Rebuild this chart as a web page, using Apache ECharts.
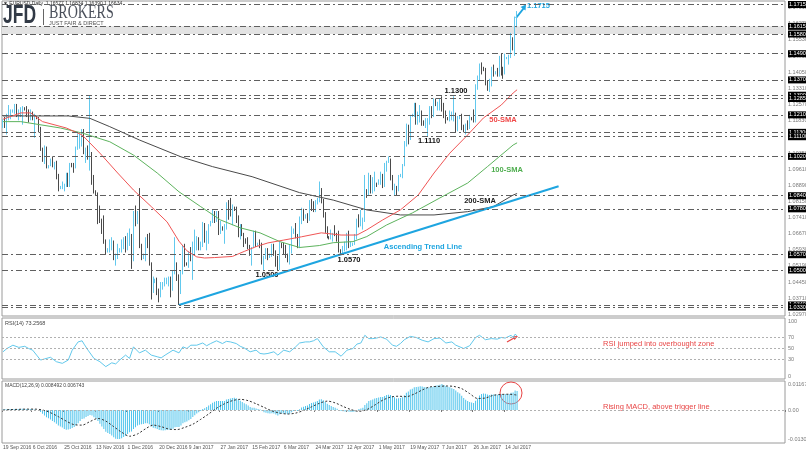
<!DOCTYPE html>
<html><head><meta charset="utf-8">
<script src="https://cdn.jsdelivr.net/npm/echarts@6/dist/echarts.min.js"></script>
<style>html,body{margin:0;padding:0;background:#fff}#c{width:806px;height:453px}</style>
</head><body><div id="c"></div>
<script>
// ---------- DATA ----------
const xLabels = ['19 Sep 2016','6 Oct 2016','25 Oct 2016','13 Nov 2016','1 Dec 2016','20 Dec 2016','9 Jan 2017','27 Jan 2017','15 Feb 2017','6 Mar 2017','24 Mar 2017','12 Apr 2017','1 May 2017','19 May 2017','7 Jun 2017','26 Jun 2017','14 Jul 2017'];
const firstDay = '2016-09-19';
const noBarDays = ['25 Dec 2016','1 Jan 2017'];
// daily bars (Sunday bars included), price x 10000: open, high, low, close
const ohlc = [
[11155,11190,11150,11170],[11170,11200,11150,11155],[11155,11215,11120,11190],[11190,11255,11185,11210],[11210,11235,11190,11225],
[11225,11235,11220,11230],[11230,11260,11215,11255],[11255,11260,11200,11210],[11210,11235,11185,11215],[11215,11245,11200,11220],[11220,11250,11165,11240],
[11240,11245,11230,11235],[11235,11250,11200,11210],[11210,11235,11175,11205],[11205,11235,11185,11205],[11205,11225,11185,11200],[11200,11215,11105,11200],
[11200,11205,11190,11195],[11195,11200,11130,11140],[11140,11155,11045,11055],[11055,11060,10995,11005],[11005,11070,10985,11055],[11055,11065,10965,10970],
[10970,10980,10965,10975],[10975,11010,10975,11000],[11000,11020,10970,10975],[10975,10995,10960,10975],[10975,11000,10915,10930],[10930,10940,10860,10880],
[10880,10885,10870,10880],[10880,10905,10870,10880],[10880,10895,10860,10885],[10885,10945,10880,10925],[10925,10945,10880,10895],[10895,10990,10880,10985],
[10985,10990,10970,10980],[10980,10990,10945,10975],[10975,11065,10965,11055],[11055,11125,11050,11100],[11100,11125,11055,11100],[11100,11145,11065,11140],
[11140,11145,11030,11040],[11040,11060,10990,11040],[11040,11070,11005,11020],[11020,11300,10955,11030],[11030,11040,10890,10895],[10895,10935,10850,10855],
[10855,10865,10840,10850],[10850,10855,10710,10735],[10735,10795,10715,10720],[10720,10735,10665,10690],[10690,10750,10620,10630],[10630,10640,10570,10590],
[10590,10600,10580,10595],[10595,10640,10580,10625],[10625,10650,10590,10630],[10630,10635,10545,10550],[10550,10575,10520,10555],[10555,10620,10550,10590],
[10590,10600,10580,10595],[10595,10640,10580,10610],[10610,10650,10595,10645],[10645,10655,10580,10590],[10590,10670,10590,10665],[10665,10690,10610,10665],
[10665,10665,10505,10540],[10540,10770,10540,10760],[10760,10795,10700,10720],[10720,10770,10710,10755],[10755,10875,10600,10615],[10615,10620,10545,10560],
[10560,10575,10550,10565],[10565,10650,10540,10630],[10630,10665,10600,10620],[10620,10670,10520,10525],[10525,10535,10365,10410],[10410,10470,10395,10450],
[10450,10460,10440,10455],[10455,10465,10385,10400],[10400,10415,10352,10385],[10385,10445,10375,10425],[10425,10445,10410,10435],[10435,10465,10425,10455],
[10455,10465,10435,10455],[10455,10470,10425,10455],[10455,10470,10375,10410],[10410,10500,10405,10495],[10495,10650,10480,10520],
[10520,10535,10450,10460],[10460,10480,10340,10405],[10405,10500,10390,10490],[10490,10615,10480,10605],[10605,10620,10515,10530],
[10530,10535,10520,10525],[10525,10585,10510,10575],[10575,10605,10540,10555],[10555,10630,10455,10585],[10585,10685,10565,10615],[10615,10655,10590,10645],
[10645,10650,10590,10600],[10600,10630,10590,10605],[10605,10720,10605,10710],[10710,10715,10625,10630],[10630,10680,10590,10660],[10660,10710,10620,10705],
[10705,10725,10700,10720],[10720,10775,10715,10760],[10760,10770,10715,10730],[10730,10770,10720,10750],[10750,10770,10660,10675],[10675,10725,10665,10695],
[10695,10700,10680,10690],[10690,10710,10620,10695],[10695,10810,10685,10800],[10800,10820,10730,10765],[10765,10830,10745,10760],[10760,10800,10705,10785],
[10785,10790,10770,10780],[10780,10790,10715,10745],[10745,10750,10650,10680],[10680,10710,10640,10700],[10700,10710,10655,10660],[10660,10670,10605,10640],
[10640,10645,10620,10625],[10625,10650,10595,10600],[10600,10615,10565,10575],[10575,10605,10520,10605],[10605,10680,10600,10675],[10675,10680,10605,10615],
[10615,10625,10610,10620],[10620,10640,10600,10615],[10615,10625,10525,10540],[10540,10565,10495,10555],[10555,10600,10550,10585],[10585,10600,10545,10560],
[10560,10575,10555,10570],[10570,10620,10560,10605],[10605,10620,10565,10575],[10575,10590,10515,10545],[10545,10565,10495,10505],[10505,10630,10500,10620],
[10620,10625,10600,10610],[10610,10625,10570,10585],[10585,10615,10555,10565],[10565,10575,10535,10545],[10545,10615,10525,10580],[10580,10700,10575,10670],
[10670,10690,10665,10685],[10685,10715,10645,10655],[10655,10665,10600,10605],[10605,10745,10600,10735],[10735,10785,10710,10765],[10765,10780,10725,10740],
[10740,10755,10735,10750],[10750,10760,10715,10740],[10740,10820,10725,10810],[10810,10825,10770,10795],[10795,10815,10765,10785],[10785,10820,10765,10800],
[10800,10830,10800,10825],[10825,10905,10810,10865],[10865,10875,10805,10815],[10815,10825,10740,10740],[10740,10765,10670,10675],[10675,10700,10645,10650],
[10650,10655,10640,10645],[10645,10685,10640,10665],[10665,10670,10630,10670],[10670,10705,10655,10660],[10660,10670,10630,10645],[10645,10680,10580,10590],
[10590,10595,10570,10580],[10580,10610,10570,10600],[10600,10630,10585,10615],[10615,10670,10590,10645],[10645,10680,10600,10615],[10615,10630,10605,10615],
[10615,10625,10610,10620],[10620,10665,10615,10645],[10645,10735,10640,10730],[10730,10755,10695,10715],[10715,10775,10700,10715],[10715,10740,10685,10725],
[10725,10935,10720,10860],[10860,10870,10830,10855],[10855,10945,10840,10930],[10930,10935,10850,10875],[10875,10925,10850,10875],[10875,10950,10860,10895],
[10895,10900,10880,10890],[10890,10915,10890,10905],[10905,10950,10890,10930],[10930,10940,10875,10885],[10885,10990,10880,10985],[10985,11000,10950,10995],
[10995,11020,10990,11000],[11000,11010,10910,10925],[10925,10935,10865,10875],[10875,10895,10840,10875],[10875,10885,10840,10865],[10865,10935,10860,10930],
[10930,10940,10925,10935],[10935,10985,10920,10980],[10980,11090,10975,11085],[11085,11170,11065,11160],[11160,11165,11075,11100],[11100,11210,11095,11205],
[11205,11215,11200,11210],[11210,11265,11200,11245],[11245,11265,11165,11180],[11180,11225,11165,11185],[11185,11255,11175,11210],[11210,11230,11160,11180],
[11180,11185,11160,11165],[11165,11195,11150,11165],[11165,11195,11110,11185],[11185,11250,11165,11245],[11245,11250,11195,11215],[11215,11285,11200,11280],
[11280,11285,11250,11255],[11255,11270,11230,11255],[11255,11285,11230,11280],[11280,11295,11225,11260],[11260,11265,11195,11210],[11210,11230,11170,11195],
[11195,11200,11185,11190],[11190,11230,11180,11210],[11210,11225,11185,11210],[11210,11295,11180,11215],[11215,11220,11130,11150],[11150,11205,11135,11195],
[11195,11205,11190,11200],[11200,11215,11140,11145],[11145,11165,11130,11130],[11130,11170,11120,11165],[11165,11185,11140,11150],[11150,11210,11145,11195],
[11195,11200,11185,11190],[11190,11235,11175,11180],[11180,11350,11175,11335],[11335,11390,11325,11375],[11375,11445,11365,11440],[11440,11450,11395,11425],
[11425,11430,11410,11415],[11415,11425,11345,11360],[11360,11365,11320,11350],[11350,11375,11315,11350],[11350,11430,11340,11420],[11420,11440,11385,11400],
[11400,11410,11395,11405],[11405,11425,11385,11400],[11400,11480,11385,11465],[11465,11490,11390,11410],[11410,11430,11375,11400],[11400,11490,11395,11470],
[11470,11475,11465,11470],[11470,11485,11440,11475],[11475,11585,11470,11555],[11555,11565,11505,11515],[11515,11660,11480,11630],[11630,11685,11610,11660]
];
// moving averages: [bar index, price]
const sma50 = [[0,1.1190],[9,1.1219],[14,1.1219],[20,1.1179],[32,1.1150],[40,1.1118],[49,1.1035],[58,1.0944],[66,1.0866],[75,1.0790],[83,1.0720],[89,1.0632],[93,1.0588],[98,1.0560],[102,1.0555],[107,1.0557],[116,1.0562],[122,1.0585],[128,1.0607],[134,1.0624],[142,1.0637],[151,1.0652],[161,1.0670],[171,1.0660],[179,1.0660],[184,1.0684],[192,1.0729],[201,1.0775],[210,1.0843],[218,1.0944],[226,1.1035],[235,1.1118],[243,1.1196],[252,1.1255],[258,1.1310],[260,1.1325]];
const sma100 = [[0,1.1179],[9,1.1179],[29,1.1150],[40,1.1127],[54,1.1087],[66,1.1026],[78,1.0944],[89,1.0858],[100,1.0790],[110,1.0729],[120,1.0693],[130,1.0670],[140,1.0630],[150,1.0603],[160,1.0612],[167,1.0625],[177,1.0630],[184,1.0653],[194,1.0706],[207,1.0761],[221,1.0830],[235,1.0898],[245,1.0973],[258,1.1072],[260,1.1082]];
const sma200 = [[0,1.1205],[33,1.1205],[44,1.1194],[54,1.1156],[69,1.1095],[90,1.1018],[106,1.0973],[126,1.0927],[150,1.0854],[167,1.0820],[184,1.0775],[201,1.0752],[218,1.0752],[235,1.0767],[248,1.0790],[258,1.0843],[260,1.0850]];
const trendLine = [[89,1.0340],[281,1.0883]];
const levels = [1.1715,1.1615,1.1580,1.1490,1.1370,1.1300,1.1285,1.1210,1.1130,1.1110,1.1020,1.0840,1.0780,1.0570,1.0500,1.0340,1.0330];
const supportBand = [1.1580,1.1615];
const priceTicks = ['1.02970','1.03710','1.04450','1.05190','1.05930','1.06670','1.07410','1.08150','1.08890','1.09610','1.10350','1.11090','1.11830','1.12570','1.13310','1.14050','1.14790','1.15530','1.16270','1.17010'];
// RSI(14): [bar index, value]
const rsi = [[0,44],[2,50],[5,56],[8,52],[11,54],[13,50],[15,47],[17,38],[19,29],[21,31],[24,34],[27,26],[30,23],[33,29],[35,47],[38,62],[40,64],[41,58],[43,47],[46,32],[49,26],[52,17],[55,24],[57,22],[59,29],[62,38],[64,32],[66,53],[69,42],[72,47],[75,38],[78,35],[80,33],[82,38],[86,47],[89,42],[91,53],[93,50],[95,56],[98,56],[101,60],[103,55],[105,59],[108,64],[111,59],[113,63],[115,62],[118,59],[120,54],[122,51],[125,44],[128,47],[130,41],[132,40],[134,41],[137,44],[139,38],[142,47],[145,44],[148,53],[150,60],[153,62],[155,62],[157,64],[159,68],[162,53],[165,44],[168,44],[171,36],[174,47],[177,50],[179,58],[181,60],[183,74],[185,68],[187,68],[189,69],[191,71],[194,67],[197,56],[199,54],[201,59],[203,66],[206,72],[209,70],[212,65],[215,62],[218,68],[221,69],[224,60],[227,62],[229,56],[230,58],[233,50],[236,55],[239,70],[241,74],[244,66],[247,68],[250,67],[252,70],[254,69],[257,74],[258,70],[259,76],[260,73]];
const rsiLevels = [70,50,30];
const rsiTicks = [100,70,50,30,0];
// MACD(12,26,9) main line (histogram) x 10000, one per bar
const macd = [
2,3,3,4,4,5,5,5,5,6, 6,5,5,4,4,3,2,0,-3,-9, -17,-25,-33,-37,-43,-49,-55,-62,-70,-74,
-79,-85,-89,-88,-85,-81,-76,-69,-60,-50, -40,-38,-32,-27,-22,-25,-33,-38,-50,-62, -74,-86,-98,-104,-108,-115,-123,-129,-131,-130,
-127,-121,-116,-108,-100,-97,-86,-78,-70,-66, -64,-63,-60,-60,-64,-74,-80,-82,-86,-90, -91,-92,-91,-90,-89,-88,-84,-78,-76,-76,
-70,-60,-55,-52,-46,-40,-32,-24,-16,-10, -5,4,8,14,20,26,33,37,41,40, 40,40,40,47,50,52,54,55,53,46,
42,36,30,26,20,13,10,10,7,5, 2,-5,-10,-12,-15,-16,-15,-16,-20,-25, -19,-16,-16,-17,-19,-17,-10,-5,-3,-5,
3,11,15,18,20,27,31,34,37,41, 47,48,44,36,28,22,18,14,10,6, 0,-4,-6,-7,-6,-8,-9,-9,-7,0,
4,7,10,22,30,40,44,47,52,54, 56,59,58,63,67,69,67,62,57,52, 53,54,57,66,78,83,92,96,102,104,
105,107,106,104,102,100,103,103,108,110, 111,114,117,113,108,105,102,98,94,88, 80,74,64,54,46,40,36,34,32,42,
52,65,72,74,73,70,68,70,70,70, 69,72,71,69,72,72,72,78,79,88,85
];
// MACD signal line x 10000: [bar index, value]
const macdSignal = [[0,0],[4,2],[8,3],[12,4],[16,4],[20,0],[24,-12],[28,-30],[32,-50],[36,-66],[40,-68],[44,-52],[48,-38],[52,-50],[56,-75],[60,-100],[64,-118],[68,-108],[72,-85],[76,-68],[80,-75],[84,-86],[88,-88],[92,-78],[96,-64],[100,-42],[104,-18],[108,8],[112,28],[116,42],[120,48],[124,42],[128,28],[132,12],[136,-4],[140,-14],[144,-18],[148,-14],[152,-2],[156,14],[160,30],[164,40],[168,32],[172,16],[176,2],[180,-6],[184,2],[188,22],[192,44],[196,58],[200,62],[204,60],[208,72],[212,90],[216,104],[220,106],[224,108],[228,106],[232,96],[236,74],[240,52],[244,54],[248,66],[252,70],[256,71],[260,67]];
const macdTicks = [['0.011677',0.011677],['0.00',0],['-0.013089',-0.013089]];

// ---------- BUILD ----------
const MON = ['Jan','Feb','Mar','Apr','May','Jun','Jul','Aug','Sep','Oct','Nov','Dec'];
const dates = [];
for (let d = new Date(firstDay + 'T00:00:00Z'); dates.length < ohlc.length; d.setUTCDate(d.getUTCDate() + 1)) {
  if (d.getUTCDay() === 6) continue;
  const s = d.getUTCDate() + ' ' + MON[d.getUTCMonth()] + ' ' + d.getUTCFullYear();
  if (noBarDays.includes(s)) continue;
  dates.push(s);
}
const SLOTS = 396;
const cats = dates.concat(new Array(SLOTS - dates.length).fill(''));
const labelSet = new Set(xLabels);
const showLab = (i, v) => labelSet.has(v);

const FONT = '"Liberation Sans", Arial, sans-serif';
const candleData = ohlc.map(r => [r[0] / 1e4, r[3] / 1e4, r[2] / 1e4, r[1] / 1e4]);
const HIDDEN = {color: 'rgba(0,0,0,0)', width: 0};

const chart = echarts.init(document.getElementById('c'), null, {renderer: 'canvas'});
const frame = {show: true, borderColor: '#9a9a9a', borderWidth: 1, backgroundColor: 'transparent'};
const catAxis = (gi, withLabels) => ({
  type: 'category', gridIndex: gi, data: cats, boundaryGap: true,
  axisLine: {show: false}, splitLine: {show: false},
  axisTick: withLabels ? {show: true, interval: showLab, length: 2, lineStyle: {color: '#777'}} : {show: false},
  axisLabel: withLabels ? {show: true, interval: showLab, align: 'left', fontSize: 5, color: '#555', margin: 2, fontFamily: FONT} : {show: false}
});
const dashDot = [6, 3, 2, 3];
const tickLabel = {show: true, position: 'end', distance: 3, formatter: '{b}', color: '#7a7a7a', fontSize: 5.5, fontFamily: FONT};

chart.setOption({
  animation: false,
  backgroundColor: '#ffffff',
  textStyle: {fontFamily: FONT},
  grid: [
    Object.assign({left: 2, top: 1, width: 783, height: 315}, frame),
    Object.assign({left: 2, top: 318, width: 783, height: 61}, frame),
    Object.assign({left: 2, top: 381, width: 783, height: 62}, frame)
  ],
  xAxis: [catAxis(0, false), catAxis(1, false), catAxis(2, true)],
  yAxis: [
    {type: 'value', gridIndex: 0, min: 1.02895, max: 1.17311, show: false, splitLine: {show: false}},
    {type: 'value', gridIndex: 1, min: -5.45, max: 105.45, show: false, splitLine: {show: false}},
    {type: 'value', gridIndex: 2, min: -0.01485, max: 0.01305, show: false, splitLine: {show: false}}
  ],
  series: [
    {
      type: 'candlestick', xAxisIndex: 0, yAxisIndex: 0, z: 2,
      data: candleData, barWidth: 1.2,
      itemStyle: {color: '#4cc3ec', color0: '#333333', borderColor: '#62c9ee', borderColor0: '#4a4a4a', borderWidth: 1},
      markArea: {silent: true, itemStyle: {color: '#e3e3e3'}, data: [[{yAxis: supportBand[0]}, {yAxis: supportBand[1]}]]},
      markLine: {
        silent: true, symbol: ['none', 'none'], precision: 5,
        lineStyle: HIDDEN,
        label: tickLabel,
        data: priceTicks.map(t => ({yAxis: parseFloat(t), name: t}))
      }
    },
    {type: 'line', xAxisIndex: 0, yAxisIndex: 0, z: 3, data: sma200, symbol: 'none', lineStyle: {color: '#4a4a4a', width: 1}},
    {type: 'line', xAxisIndex: 0, yAxisIndex: 0, z: 3, data: sma100, symbol: 'none', lineStyle: {color: '#5db35d', width: 1}},
    {type: 'line', xAxisIndex: 0, yAxisIndex: 0, z: 3, data: sma50, symbol: 'none', lineStyle: {color: '#f05555', width: 1}},
    {
      type: 'line', xAxisIndex: 0, yAxisIndex: 0, z: 4, data: trendLine, symbol: 'none',
      lineStyle: {color: '#1ea5e0', width: 2},
      markLine: {
        silent: true, symbol: ['none', 'none'], precision: 5,
        lineStyle: {color: '#606060', width: 1, type: dashDot},
        label: {show: true, position: 'end', distance: 3, formatter: p => Number(p.value).toFixed(5),
          color: '#ffffff', backgroundColor: '#000000', padding: [1, 1, 0, 1], fontSize: 5.5, fontFamily: FONT},
        data: levels.map(v => ({yAxis: v}))
      }
    },
    {
      type: 'line', xAxisIndex: 1, yAxisIndex: 1, data: rsi, symbol: 'none',
      lineStyle: {color: '#62c9ec', width: 1},
      markLine: {
        silent: true, symbol: ['none', 'none'], precision: 5,
        label: tickLabel,
        data: rsiTicks.map(v => ({yAxis: v, name: String(v),
          lineStyle: rsiLevels.includes(v) ? {color: '#b0b0b0', width: 1, type: [2, 2]} : HIDDEN}))
      }
    },
    {
      type: 'bar', xAxisIndex: 2, yAxisIndex: 2, data: macd.map(v => v / 1e4), barWidth: 1,
      itemStyle: {color: '#4fc4ec'},
      markLine: {
        silent: true, symbol: ['none', 'none'], precision: 6,
        label: tickLabel,
        data: macdTicks.map(t => ({yAxis: t[1], name: t[0],
          lineStyle: t[1] === 0 ? {color: '#b0b0b0', width: 1, type: [2, 2]} : HIDDEN}))
      }
    },
    {type: 'line', xAxisIndex: 2, yAxisIndex: 2, data: macdSignal.map(p => [p[0], p[1] / 1e4]), symbol: 'none', smooth: 0.3,
      lineStyle: {color: '#333333', width: 1, type: [2, 2]}}
  ],
  graphic: [
    {type: 'text', x: 3, y: 4, style: {text: '\u25BC EURUSD,Daily  1.16577 1.16834 1.16390 1.16634', fill: '#333', font: '5px ' + FONT, textVerticalAlign: 'middle'}},
    {type: 'text', x: 3, y: 16.5, scaleX: 0.7, style: {text: 'JFD', fill: '#323a46', font: 'bold 25px ' + FONT, textVerticalAlign: 'middle'}},
    {type: 'line', shape: {x1: 43.5, y1: 9, x2: 43.5, y2: 25}, style: {stroke: '#666', lineWidth: 1}},
    {type: 'text', x: 49, y: 13, scaleX: 0.78, style: {text: 'BROKERS', fill: '#4b505b', font: '18px "Liberation Serif", serif', textVerticalAlign: 'middle'}},
    {type: 'text', x: 49, y: 23.5, style: {text: 'JUST FAIR & DIRECT', fill: '#555', font: '5.5px ' + FONT, textVerticalAlign: 'middle'}},
    {type: 'text', x: 607, y: 29.5, style: {text: 'Strong Support Area 1.1580 - 1.1615', fill: '#8a8a8a', font: '7.5px ' + FONT, textVerticalAlign: 'middle'}},
    {type: 'text', x: 527, y: 6, style: {text: '1.1715', fill: '#1ea5e0', font: 'bold 7.5px ' + FONT, textVerticalAlign: 'middle'}},
    {type: 'line', shape: {x1: 516, y1: 18, x2: 523.5, y2: 8.5}, style: {stroke: '#1ea5e0', lineWidth: 2}},
    {type: 'polygon', shape: {points: [[526, 4.5], [525.5, 10.5], [520.5, 7]]}, style: {fill: '#1ea5e0'}},
    {type: 'text', x: 456, y: 90.5, style: {text: '1.1300', fill: '#111', font: 'bold 7.5px ' + FONT, textAlign: 'center', textVerticalAlign: 'middle'}},
    {type: 'text', x: 429, y: 140.5, style: {text: '1.1110', fill: '#111', font: 'bold 7.5px ' + FONT, textAlign: 'center', textVerticalAlign: 'middle'}},
    {type: 'text', x: 349, y: 259.5, style: {text: '1.0570', fill: '#111', font: 'bold 7.5px ' + FONT, textAlign: 'center', textVerticalAlign: 'middle'}},
    {type: 'text', x: 267, y: 274.5, style: {text: '1.0500', fill: '#111', font: 'bold 7.5px ' + FONT, textAlign: 'center', textVerticalAlign: 'middle'}},
    {type: 'text', x: 503, y: 120, style: {text: '50-SMA', fill: '#f04848', font: 'bold 7.5px ' + FONT, textAlign: 'center', textVerticalAlign: 'middle'}},
    {type: 'text', x: 507, y: 169.5, style: {text: '100-SMA', fill: '#4fae4f', font: 'bold 7.5px ' + FONT, textAlign: 'center', textVerticalAlign: 'middle'}},
    {type: 'text', x: 480, y: 201, style: {text: '200-SMA', fill: '#222', font: 'bold 7.5px ' + FONT, textAlign: 'center', textVerticalAlign: 'middle'}},
    {type: 'text', x: 423, y: 247, style: {text: 'Ascending Trend Line', fill: '#1ea5e0', font: 'bold 7.5px ' + FONT, textAlign: 'center', textVerticalAlign: 'middle'}},
    {type: 'text', x: 5, y: 323, style: {text: 'RSI(14) 73.2568', fill: '#444', font: '5.5px ' + FONT, textVerticalAlign: 'middle'}},
    {type: 'text', x: 603, y: 343.5, style: {text: 'RSI jumped into overbought zone', fill: '#e84545', font: '7.5px ' + FONT, textVerticalAlign: 'middle'}},
    {type: 'line', shape: {x1: 507, y1: 342, x2: 514, y2: 338}, style: {stroke: '#e84545', lineWidth: 1.2}},
    {type: 'polygon', shape: {points: [[518, 336], [512.5, 336.3], [514.6, 340.1]]}, style: {fill: '#e84545'}},
    {type: 'text', x: 5, y: 386, style: {text: 'MACD(12,26,9) 0.008492 0.006743', fill: '#444', font: '5px ' + FONT, textVerticalAlign: 'middle'}},
    {type: 'circle', shape: {cx: 511, cy: 393, r: 11}, style: {stroke: '#e84545', fill: 'none', lineWidth: 1}},
    {type: 'text', x: 603, y: 406.5, style: {text: 'Rising MACD, above trigger line', fill: '#e84545', font: '7.5px ' + FONT, textVerticalAlign: 'middle'}}
  ]
});
</script>
</body></html>
